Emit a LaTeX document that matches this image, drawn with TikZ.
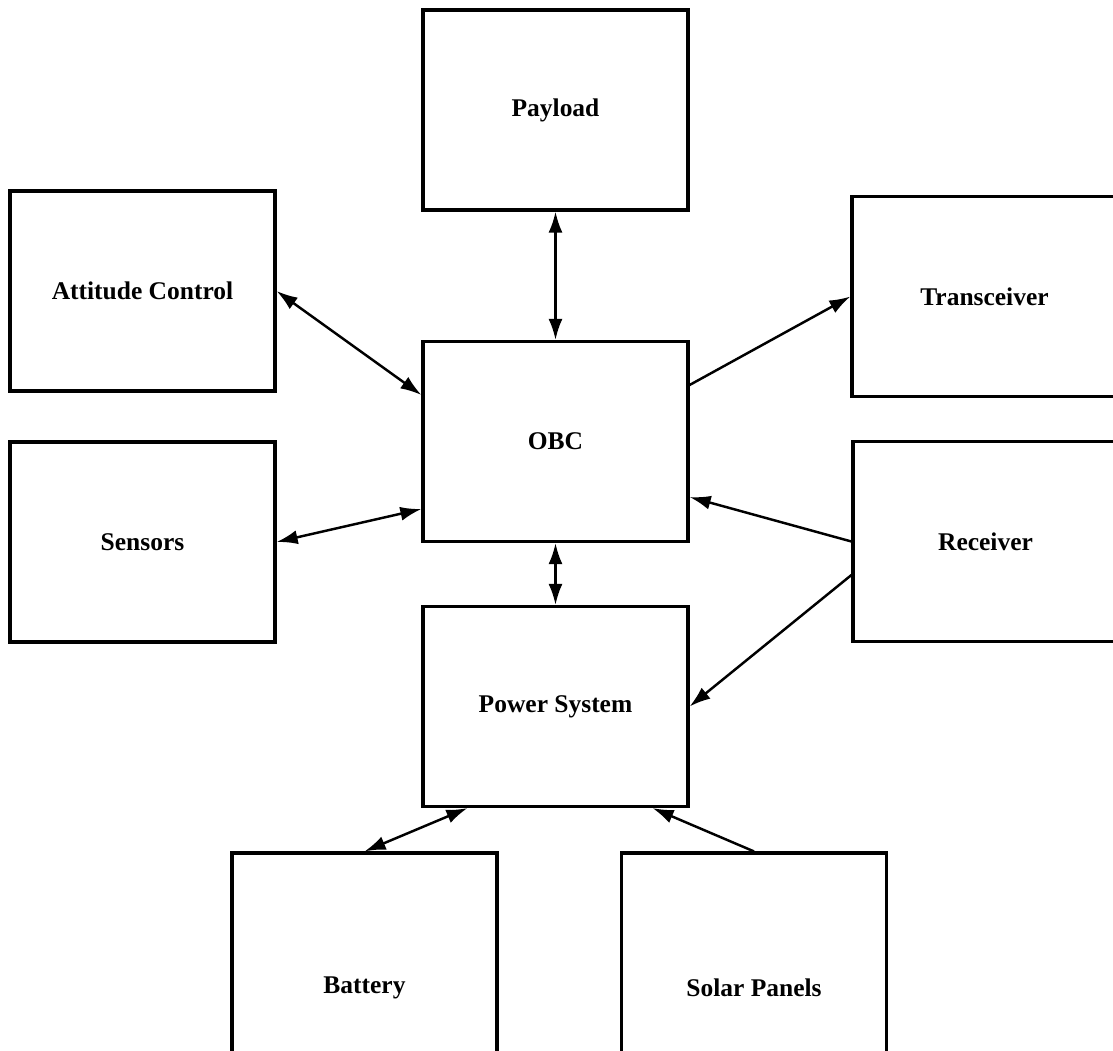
\documentclass[tikz,border=0pt]{standalone}
\usepackage{fontspec}
\setmainfont{Liberation Serif}
\usepackage{tikz}
\usetikzlibrary{arrows.meta}
\usetikzlibrary{positioning}

\tikzset{
  subsys/.style={rectangle, draw=black, line width=1.8pt, minimum width=5.3cm, minimum height=4cm,
    font=\fontsize{14.5}{17}\selectfont\bfseries},
  tallsys/.style={subsys, minimum height=5.4cm},
  link/.style={line width=1.4pt, >={Latex[length=12pt,width=8pt]}}
}

\begin{document}
\begin{tikzpicture}
\clip (0,0) rectangle (22.26,-21.02);
\node [subsys] (PL) at (11.11, -2.2) {Payload};
\node [subsys] (AC) at (2.85, -5.82) {Attitude Control};
\node [subsys] (OBC) at (11.11, -8.83) {OBC};
\node [subsys] (SE) at (2.85, -10.84) {Sensors};
\node [subsys] (PS) at (11.11, -14.13) {Power System};
\node [subsys] (TX) at (19.69, -5.93) {Transceiver};
\node [subsys] (RX) at (19.71, -10.83) {Receiver};
\node [tallsys] (BA) at (7.29, -19.76) {Battery};
\node [tallsys] (SP) at (15.08, -19.76) {Solar Panels};
\draw [link, <->] (PL.south) to (OBC.north);
\draw [link, <->] (AC.east) to ([yshift=0.93cm]OBC.west);
\draw [link, <->] (SE.east) to ([yshift=-1.35cm]OBC.west);
\draw [link, ->] ([yshift=1.13cm]OBC.east) to (TX.west);
\draw [link, ->] (RX.west) to ([yshift=-1.11cm]OBC.east);
\draw [link, ->] ([yshift=-0.67cm]RX.west) to (PS.east);
\draw [link, <->] (OBC.south) to (PS.north);
\draw [link, <->] (BA.north) to ([xshift=-1.76cm]PS.south);
\draw [link, ->] (SP.north) to ([xshift=1.94cm]PS.south);
\end{tikzpicture}
\end{document}
